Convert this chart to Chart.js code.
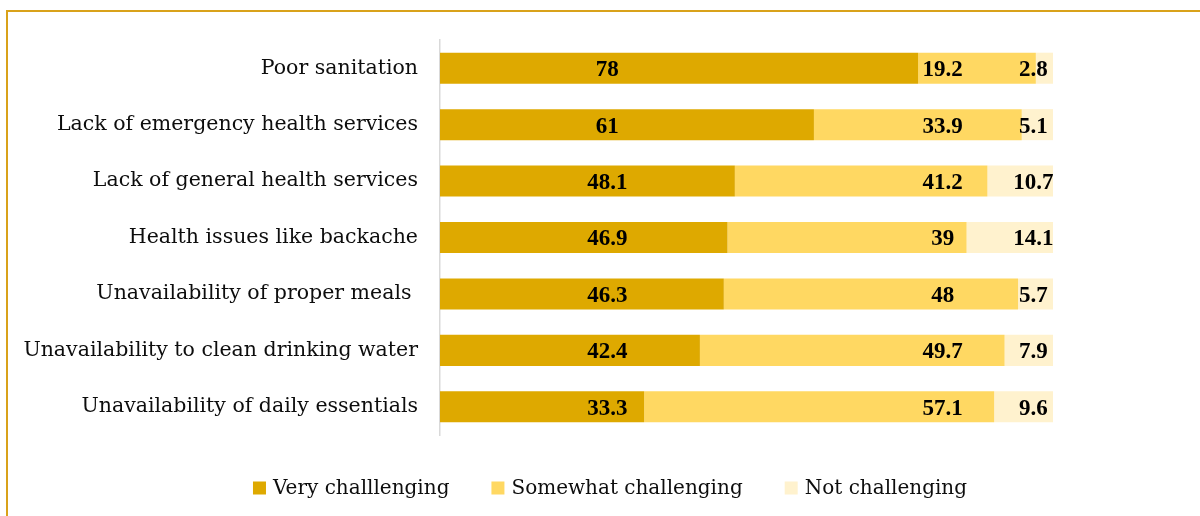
<!DOCTYPE html>
<html>
<head>
<meta charset="utf-8">
<script src="https://cdn.jsdelivr.net/npm/chart.js@4.4.1/dist/chart.umd.min.js"></script>
<style>
  html, body { margin: 0; padding: 0; background: #ffffff; }
  #c { display: block; }
</style>
</head>
<body>
<canvas id="c" width="1200" height="516"></canvas>
<script>
// Challenges, top to bottom
const categories = [
  'Poor sanitation',
  'Lack of emergency health services',
  'Lack of general health services',
  'Health issues like backache',
  'Unavailability of proper meals ',
  'Unavailability to clean drinking water',
  'Unavailability of daily essentials'
];

// Share of respondents (%) per rating
const veryChallenging     = [78, 61, 48.1, 46.9, 46.3, 42.4, 33.3];
const somewhatChallenging = [19.2, 33.9, 41.2, 39, 48, 49.7, 57.1];
const notChallenging      = [2.8, 5.1, 10.7, 14.1, 5.7, 7.9, 9.6];

const seriesNames  = ['Very challlenging', 'Somewhat challenging', 'Not challenging'];
const seriesColors = ['#DEA900', '#FFD862', '#FFF2CE'];

const SERIF = '"DejaVu Serif", "Liberation Serif", serif';

// Gold frame around the chart (only its top and left edges fall inside the canvas)
const frame = {
  id: 'frame',
  beforeDraw(chart, args, opts) {
    const ctx = chart.ctx;
    ctx.save();
    ctx.fillStyle = '#ffffff';
    ctx.fillRect(0, 0, chart.width, chart.height);
    ctx.strokeStyle = opts.color;
    ctx.lineWidth = opts.width;
    ctx.beginPath();
    ctx.moveTo(opts.left, chart.height + 5);
    ctx.lineTo(opts.left, opts.top);
    ctx.lineTo(chart.width + 5, opts.top);
    ctx.stroke();
    ctx.restore();
  }
};

// Value labels: each series' labels sit in one column, at a fixed point on the value axis
const valueLabels = {
  id: 'valueLabels',
  afterDatasetsDraw(chart, args, opts) {
    const ctx = chart.ctx;
    const xs = chart.scales.x;
    ctx.save();
    ctx.font = opts.font;
    ctx.fillStyle = opts.color;
    ctx.textAlign = 'center';
    ctx.textBaseline = 'middle';
    chart.data.datasets.forEach((ds, di) => {
      const meta = chart.getDatasetMeta(di);
      const x = xs.getPixelForValue(opts.anchors[di]);
      meta.data.forEach((bar, i) => {
        ctx.fillText(String(ds.data[i]), x, bar.y + opts.dy);
      });
    });
    ctx.restore();
  }
};

// Legend row under the plot, centred on a given x
const legendRow = {
  id: 'legendRow',
  afterDraw(chart, args, opts) {
    const ctx = chart.ctx;
    ctx.save();
    ctx.font = opts.font;
    ctx.textBaseline = 'middle';
    ctx.textAlign = 'left';
    const items = chart.data.datasets.map(ds => ({
      text: ds.label, color: ds.backgroundColor,
      w: opts.box + opts.textGap + ctx.measureText(ds.label).width
    }));
    const total = items.reduce((s, it) => s + it.w, 0) + opts.itemGap * (items.length - 1);
    let x = opts.centerX - total / 2;
    const y = opts.y;
    items.forEach(it => {
      ctx.fillStyle = it.color;
      ctx.fillRect(x, y - opts.box / 2, opts.box, opts.box);
      ctx.fillStyle = opts.color;
      ctx.fillText(it.text, x + opts.box + opts.textGap, y + 1);
      x += it.w + opts.itemGap;
    });
    ctx.restore();
  }
};

new Chart(document.getElementById('c'), {
  type: 'bar',
  data: {
    labels: categories,
    datasets: [
      { label: seriesNames[0], data: veryChallenging,     backgroundColor: seriesColors[0] },
      { label: seriesNames[1], data: somewhatChallenging, backgroundColor: seriesColors[1] },
      { label: seriesNames[2], data: notChallenging,      backgroundColor: seriesColors[2] }
    ]
  },
  options: {
    indexAxis: 'y',
    responsive: false,
    animation: false,
    devicePixelRatio: 1,
    layout: { padding: { top: 40, right: 147, bottom: 81, left: 0 } },
    datasets: { bar: { barPercentage: 0.55, categoryPercentage: 1, borderWidth: 0 } },
    scales: {
      x: { stacked: true, min: 0, max: 100, display: false },
      y: {
        stacked: true,
        grid: { display: false, drawTicks: false },
        border: { display: true, color: '#D9D9D9', width: 1.5 },
        ticks: { color: '#0d0d0d', padding: 22, font: { family: SERIF, size: 20.5 } },
        afterFit(scale) { scale.width = 440; }
      }
    },
    plugins: {
      legend: { display: false },
      tooltip: { enabled: false },
      frame: { color: '#D9A21A', width: 2, left: 7, top: 11 },
      valueLabels: {
        anchors: [27.3, 82.0, 96.8],
        dy: 2,
        color: '#000000',
        font: 'bold 23px "Liberation Serif", serif'
      },
      legendRow: {
        centerX: 610, y: 488, box: 13, textGap: 7, itemGap: 42,
        color: '#0d0d0d',
        font: '20px ' + SERIF
      }
    }
  },
  plugins: [frame, valueLabels, legendRow]
});
</script>
</body>
</html>
